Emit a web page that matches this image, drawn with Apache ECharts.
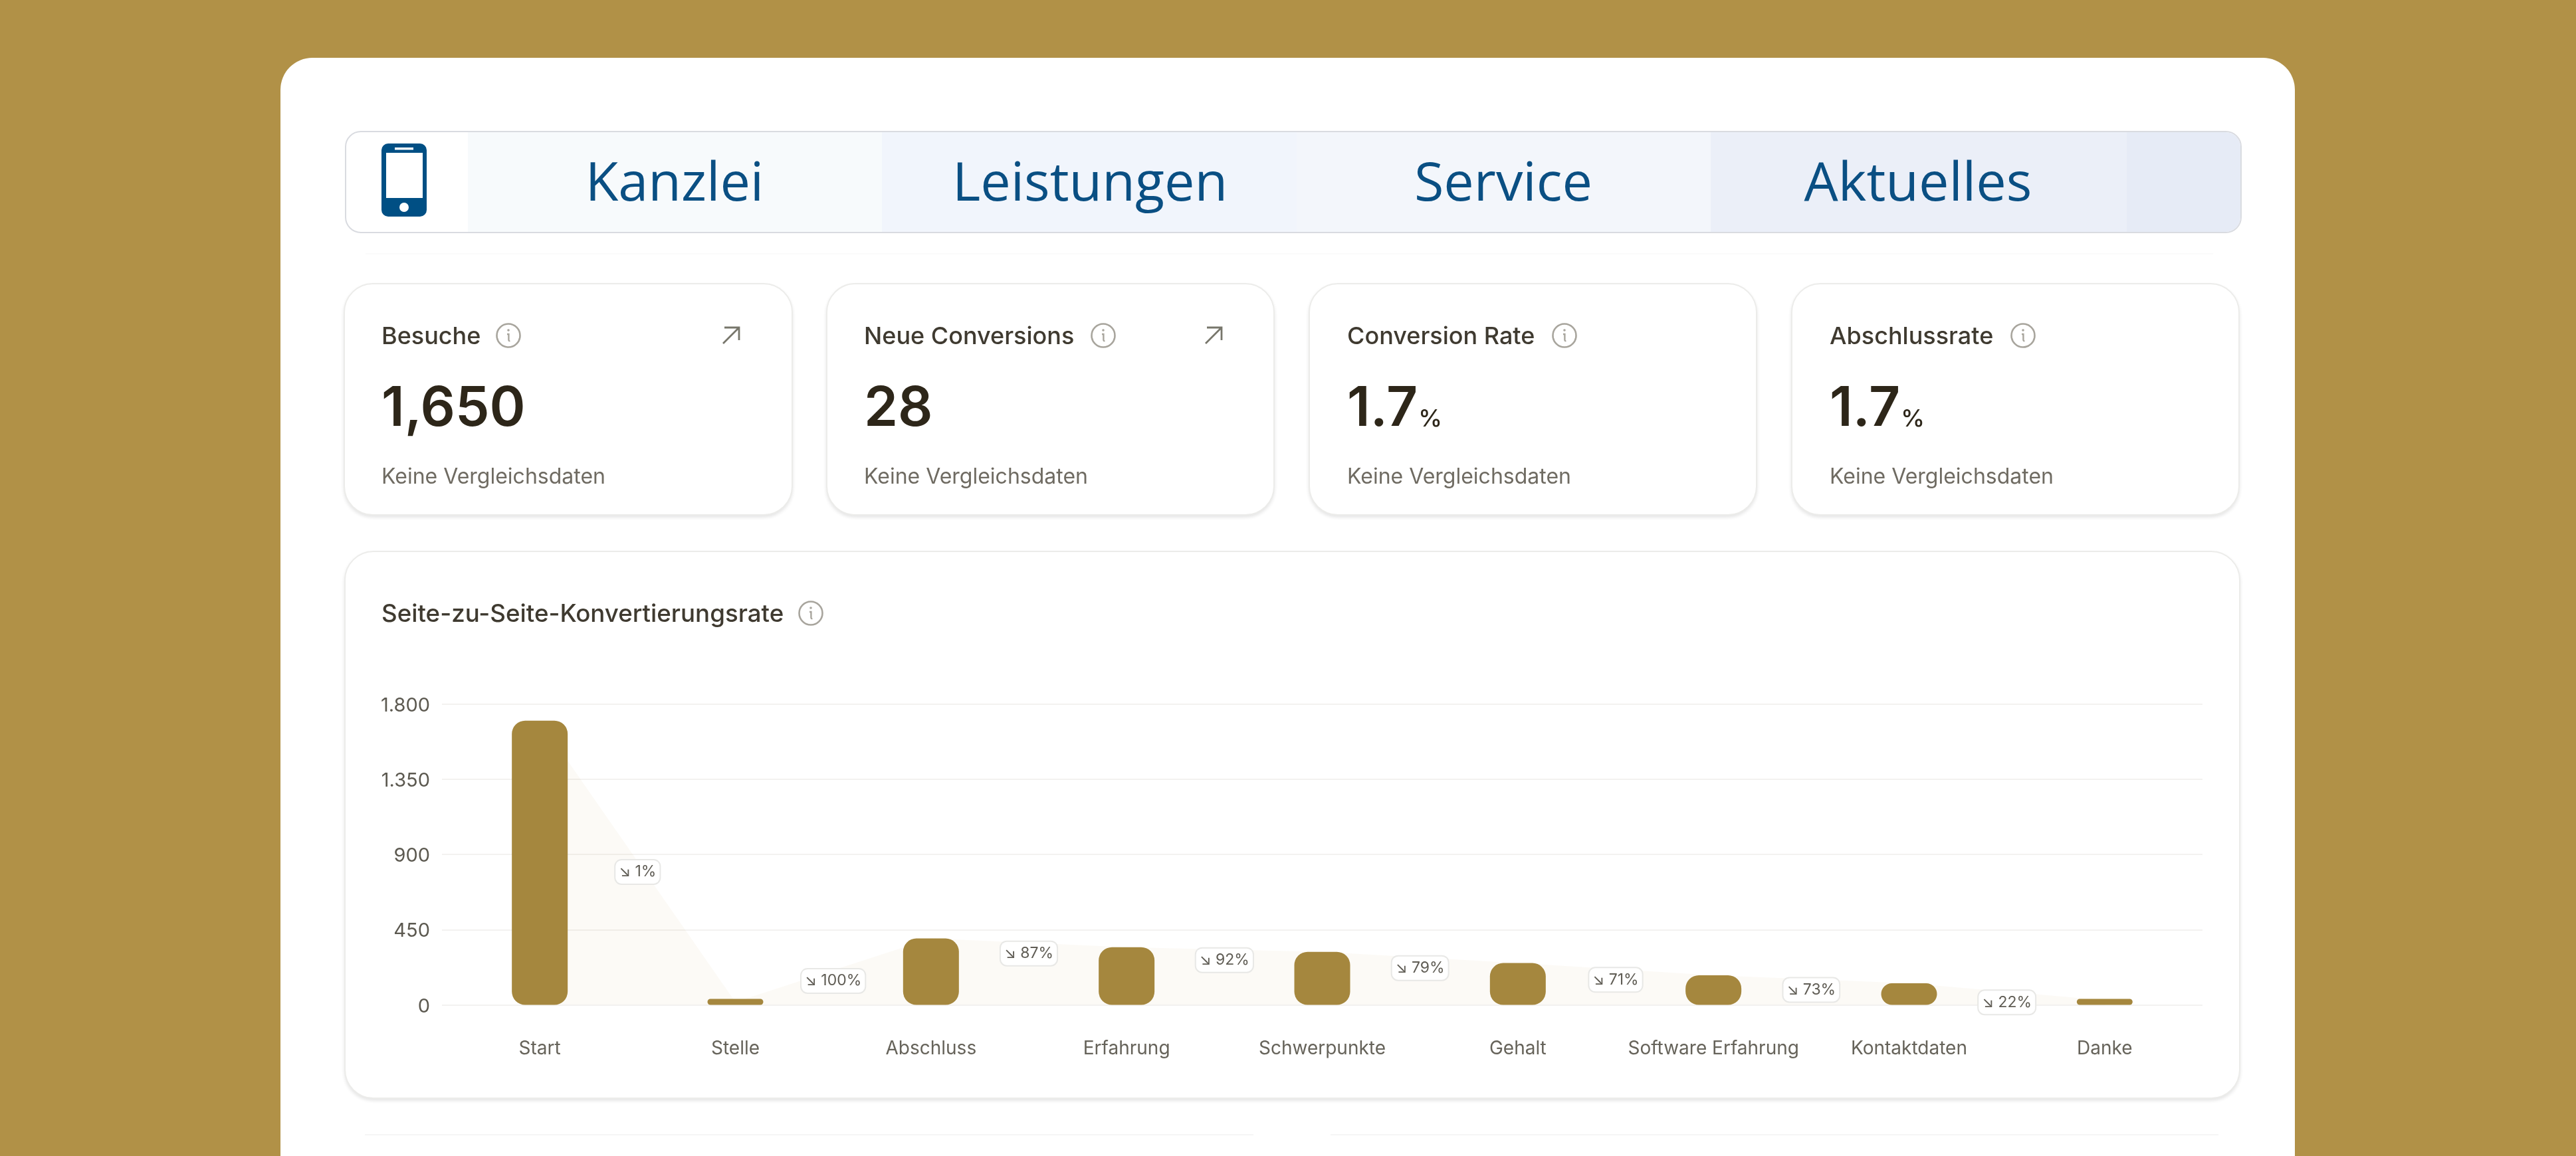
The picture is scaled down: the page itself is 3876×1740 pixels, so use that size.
<!DOCTYPE html>
<html>
<head>
<meta charset="utf-8">
<title>Seite-zu-Seite-Konvertierungsrate</title>
<script src="https://cdn.jsdelivr.net/npm/echarts@6/dist/echarts.min.js"></script>
<style>
html, body { margin: 0; padding: 0; width: 3876px; height: 1740px; overflow: hidden; background: #b19147; font-family: Inter, sans-serif; }
#page { position: absolute; left: 0; top: 0; width: 3876px; height: 1740px; overflow: hidden; }
.box { position: absolute; box-sizing: border-box; }
.panel { left: 422px; top: 87px; width: 3031px; height: 1720px; background: #fff; border-radius: 48px; }
.nav { left: 519px; top: 197px; width: 2854px; height: 154px; border: 2px solid #d9dbe0; border-radius: 24px; overflow: hidden; background: #fff; }
.band { position: absolute; top: 0; height: 150px; }
.card { background: #fff; border: 2px solid #ececea; border-radius: 44px; box-shadow: 0 3px 5px rgba(0,0,0,.10); }
.rule { background: #f6f6f5; height: 2px; }
.rule.faint { background: #fbfbfb; }
.txt { position: absolute; white-space: nowrap; line-height: 0; height: 0; }
svg { position: absolute; overflow: visible; }
#chart_main { position: absolute; left: 520px; top: 1000px; width: 2850px; height: 650px; }
</style>
</head>
<body>
<div id="page">
    <div class="box panel"></div>
    <div class="box nav" id="nav"></div>
    <div class="box rule faint" style="left:550px;top:381px;width:2780px;"></div>
    <div class="box rule" style="left:549px;top:1707px;width:1337px;"></div>
    <div class="box rule" style="left:2002px;top:1707px;width:1336px;"></div>
    <div class="box card" style="left:518px;top:829px;width:2853px;height:825px;"></div>
    <div id="chart_main"></div>
</div>
<script>
var navItems = ['Kanzlei', 'Leistungen', 'Service', 'Aktuelles'];
var kpiNames = ['Besuche', 'Neue Conversions', 'Conversion Rate', 'Abschlussrate'];
var kpiValues = ['1,650', '28', '1.7', '1.7'];
var kpiUnits = ['', '', '%', '%'];
var kpiNote = 'Keine Vergleichsdaten';
var chartTitle = 'Seite-zu-Seite-Konvertierungsrate';

var categories = ['Start', 'Stelle', 'Abschluss', 'Erfahrung', 'Schwerpunkte', 'Gehalt', 'Software Erfahrung', 'Kontaktdaten', 'Danke'];
var visits = [1700, 17, 397, 345, 317, 250, 177, 129, 28];
var stepRates = ['1%', '100%', '87%', '92%', '79%', '71%', '73%', '22%'];
var yTickLabels = ['0', '450', '900', '1.350', '1.800'];

var page = document.getElementById('page');

function addText(x, baseline, text, size, weight, color, font, anchor) {
    var el = document.createElement('div');
    el.className = 'txt';
    el.textContent = text;
    var ratio = font == 'Open Sans' ? 0.388 : 0.3635;
    el.style.cssText = 'left:' + x + 'px;top:' + (baseline - ratio * size) + 'px;font-size:' + size + 'px;font-weight:' + weight +
        ';color:' + color + ';font-family:"' + (font || 'Inter') + '",sans-serif;' + (anchor == 'center' ? 'transform:translateX(-50%);' : '');
    page.appendChild(el);
    return el;
}

function addSvg(html) {
    var ns = document.createElementNS('http://www.w3.org/2000/svg', 'svg');
    ns.setAttribute('width', '3876');
    ns.setAttribute('height', '1740');
    ns.style.left = '0';
    ns.style.top = '0';
    ns.innerHTML = html;
    page.appendChild(ns);
}

function infoIcon(cx, cy) {
    return '<circle cx="' + cx + '" cy="' + cy + '" r="17.5" fill="none" stroke="#a8a59d" stroke-width="2.6"/>' +
        '<circle cx="' + cx + '" cy="' + (cy - 8) + '" r="1.8" fill="#a8a59d"/>' +
        '<path d="M' + (cx - 2) + ' ' + (cy - 2) + 'h2.4v8.5q0 2 2 1.6" fill="none" stroke="#a8a59d" stroke-width="2.4"/>';
}

function trendArrow(x, y) {
    return '<path d="M' + x + ' ' + (y + 24) + 'L' + (x + 24) + ' ' + y + 'M' + (x + 2) + ' ' + y + 'H' + (x + 24) + 'V' + (y + 19) +
        '" fill="none" stroke="#77766b" stroke-width="2.8"/>';
}

// nav
var nav = document.getElementById('nav');
var bandEdges = [183, 806, 1430, 2053, 2679, 2854];
var bandColors = ['#f7fafc', '#f1f5fc', '#f3f6fb', '#ebeff8', '#e6ebf6'];
for (var b = 0; b < bandColors.length; b++) {
    var band = document.createElement('div');
    band.className = 'band';
    band.style.left = bandEdges[b] + 'px';
    band.style.width = (bandEdges[b + 1] - bandEdges[b]) + 'px';
    band.style.background = bandColors[b];
    nav.appendChild(band);
}
var navCenters = [1015, 1640, 2262, 2886];
navItems.forEach(function (name, i) {
    addText(navCenters[i], 302, name, 81, 400, '#0a4f83', 'Open Sans', 'center');
});
addSvg('<rect x="574" y="216" width="68" height="110" rx="10" fill="#004f84"/>' +
    '<rect x="581" y="230" width="55" height="68" fill="#fff"/>' +
    '<rect x="594" y="222" width="28" height="3.5" fill="#fff"/>' +
    '<circle cx="608" cy="312" r="7" fill="#fff"/>');

// kpi cards
var cardLefts = [517, 1243, 1969, 2695];
var infoX = [765, 1660, 2354, 3044];
var icons = '';
kpiNames.forEach(function (name, i) {
    var left = cardLefts[i];
    var card = document.createElement('div');
    card.className = 'box card';
    card.style.cssText = 'left:' + left + 'px;top:426px;width:' + (i ? 675 : 676) + 'px;height:350px;';
    page.insertBefore(card, page.querySelector('#chart_main'));
    var tx = [574, 1300, 2027, 2753][i];
    addText(tx, 518, name, 36, 500, '#3f3a30');
    var v = addText(tx, 642, kpiValues[i], 82, 600, '#2d2619');
    if (kpiUnits[i]) {
        addText(tx + v.getBoundingClientRect().width + 1, 642, kpiUnits[i], 36, 500, '#2d2619');
    }
    addText(tx, 729, kpiNote, 32, 400, '#6f6b62');
    icons += infoIcon(infoX[i], 505);
    if (i < 2) {
        icons += trendArrow(left + 571, 493);
    }
});
addText(574, 936, chartTitle, 36.7, 500, '#3f3a30');
icons += infoIcon(1220, 923);
addSvg(icons);

// chart
var badgeData = stepRates.map(function (rate, i) {
    return [i, (visits[i] + visits[i + 1]) / 2, rate];
});

var myChart = echarts.init(document.getElementById('chart_main'));
var option = {
    animation: false,
    backgroundColor: 'transparent',
    tooltip: { show: false },
    grid: { left: 145, right: 56, top: 59.5, bottom: 137.5 },
    xAxis: {
        type: 'category',
        data: categories,
        axisLine: { show: false },
        axisTick: { show: false },
        axisLabel: {
            interval: 0,
            margin: 52,
            fontFamily: 'Inter',
            fontSize: 28,
            color: '#66635a'
        }
    },
    yAxis: {
        type: 'value',
        min: 0,
        max: 1800,
        interval: 450,
        axisLine: { show: false },
        axisTick: { show: false },
        splitLine: { lineStyle: { color: '#f3f2f0', width: 2 } },
        axisLabel: {
            margin: 18,
            formatter: function (value) {
                return '{tick|' + yTickLabels[value / 450] + '}';
            },
            rich: {
                tick: {
                    fontFamily: 'Inter',
                    fontSize: 29,
                    color: '#5c5950',
                    padding: [5, 0, 0, 0]
                }
            }
        }
    },
    series: [
        {
            type: 'line',
            data: visits,
            z: 1,
            showSymbol: false,
            silent: true,
            lineStyle: { width: 0 },
            areaStyle: { color: 'rgba(188,138,55,0.045)', opacity: 1 }
        },
        {
            type: 'bar',
            data: visits,
            z: 2,
            barWidth: 84,
            barMinHeight: 9,
            itemStyle: { color: '#a5873e', borderRadius: 20 }
        },
        {
            type: 'custom',
            data: badgeData,
            z: 3,
            silent: true,
            encode: { x: 0, y: 1 },
            renderItem: function (params, api) {
                var p = api.coord([api.value(0), api.value(1)]);
                var bandWidth = api.size([1, 0])[0];
                return {
                    type: 'text',
                    x: p[0] + bandWidth / 2,
                    y: p[1] + 16,
                    style: {
                        text: '↘ ' + badgeData[params.dataIndex][2],
                        fontFamily: 'Inter',
                        fontSize: 23,
                        fill: '#5f5c54',
                        align: 'center',
                        verticalAlign: 'middle',
                        backgroundColor: '#fff',
                        borderColor: '#e8e8e6',
                        borderWidth: 2,
                        borderRadius: 9,
                        padding: [6, 5]
                    }
                };
            }
        }
    ]
};
myChart.setOption(option);
</script>
</body>
</html>
